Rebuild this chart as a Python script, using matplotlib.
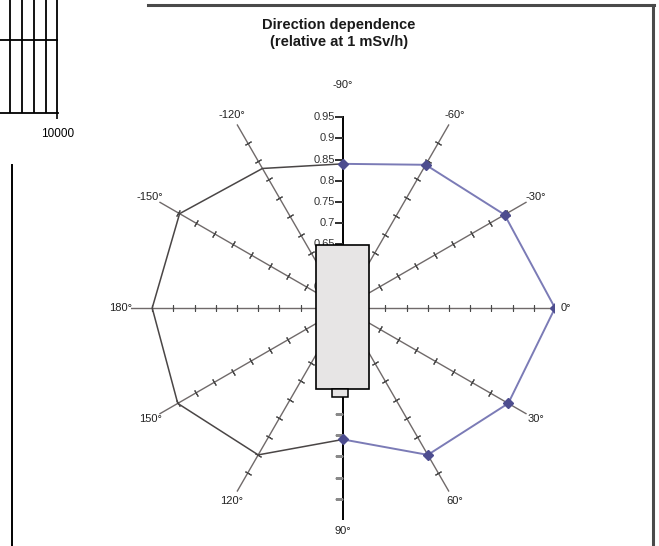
import numpy as np
import matplotlib
matplotlib.use("Agg")
import matplotlib.pyplot as plt
from matplotlib.patches import Rectangle
from matplotlib.lines import Line2D

plt.rcParams["font.family"] = ["Liberation Sans", "DejaVu Sans"]

# Spoke directions (degrees, clockwise from the right) and their labels
spoke_angles = [-90, -60, -30, 0, 30, 60, 90, 120, 150, 180, -150, -120]
spoke_labels = ["-90°", "-60°", "-30°", "0°", "30°", "60°", "90°",
                "120°", "150°", "180°", "-150°", "-120°"]

# Front half (-90° .. 90°), drawn with markers
front_angles = [-90, -60, -30, 0, 30, 60, 90]
front_values = [0.84, 0.89, 0.94, 1.00, 0.95, 0.90, 0.81]

# Rear half (-90° .. 180° .. 90°)
rear_angles = [-90, -120, -150, 180, 150, 120, 90]
rear_values = [0.84, 0.88, 0.945, 0.95, 0.95, 0.90, 0.81]

# Radial scale
r_ticks = [0.5, 0.55, 0.6, 0.65, 0.7, 0.75, 0.8, 0.85, 0.9, 0.95]
r_tick_labels = ["0.5", "0.55", "0.6", "0.65", "0.7", "0.75", "0.8",
                 "0.85", "0.9", "0.95"]
r_min, r_max = 0.5, 1.0

# Neighbouring log-response panel (x axis fragment)
side_grid = [6000, 7000, 8000, 9000]
side_ticks = [10000]
side_tick_labels = ["10000"]

W, H = 659, 546
fig = plt.figure(figsize=(W / 100, H / 100), dpi=100)
fig.patch.set_facecolor("white")

# ---- radar chart -------------------------------------------------------
cx, cy, R = 343, 308, 212
ax = fig.add_axes([(cx - R) / W, (H - cy - R) / H, 2 * R / W, 2 * R / H],
                  projection="polar")
ax.set_theta_zero_location("E")
ax.set_theta_direction(-1)
ax.set_ylim(r_min, r_max)
ax.grid(False)
ax.spines["polar"].set_visible(False)
ax.set_xticks([])
ax.set_yticks([])
ax.patch.set_alpha(0)

tick_r = [r for r in r_ticks if r > r_min]
for ang in spoke_angles:
    th = np.deg2rad(ang)
    if ang == -90:
        ax.plot([th, th], [r_min, 0.95], color="black", lw=1.4, zorder=2)
        ax.plot([th] * len(r_ticks), r_ticks, ls="none", marker=0, ms=6,
                mec="#333333", mew=1.1, zorder=2)
    elif ang == 90:
        ax.plot([th, th], [r_min, r_max], color="black", lw=1.4, zorder=2)
        ax.plot([th] * len(tick_r), tick_r, ls="none", marker=0, ms=6,
                mec="#8a8a8a", mew=1.0, zorder=2)
    else:
        ax.plot([th, th], [r_min, r_max], color="#706a6a", lw=1.0, zorder=2)
        ax.plot([th] * len(tick_r), tick_r, ls="none",
                marker=(2, 2, -ang), ms=5, mec="#4a4a4a", mew=0.8, zorder=2)

for ang, lbl in zip(spoke_angles, spoke_labels):
    ax.text(np.deg2rad(ang), 1.025, lbl, ha="center", va="center",
            fontsize=8, color="#222222")

for r, lbl in zip(r_ticks, r_tick_labels):
    ax.annotate(lbl, xy=(np.deg2rad(-90), r), xytext=(-8, 0),
                textcoords="offset pixels", ha="right", va="center",
                fontsize=8, color="#333333")

ax.plot(np.deg2rad(rear_angles), rear_values, color="#4a4646", lw=1.1,
        zorder=3)
ax.plot(np.deg2rad(front_angles), front_values, color="#7b7bb6", lw=1.4,
        marker="D", ms=5, mfc="#4d4d8f", mec="#4d4d8f", zorder=4)

# detector body drawn over the centre
fig.add_artist(Rectangle((316 / W, 1 - 389 / H), 53 / W, 144 / H,
                         transform=fig.transFigure, facecolor="#e7e5e5",
                         edgecolor="black", lw=1.2, zorder=10))
fig.add_artist(Rectangle((332 / W, 1 - 397 / H), 16 / W, 8 / H,
                         transform=fig.transFigure, facecolor="#e7e5e5",
                         edgecolor="black", lw=1.1, zorder=11))

fig.text(339 / W, 1 - 25 / H, "Direction dependence", ha="center",
         va="center", fontsize=10.5, fontweight="bold", color="#1a1a1a")
fig.text(339 / W, 1 - 42 / H, "(relative at 1 mSv/h)", ha="center",
         va="center", fontsize=10.5, fontweight="bold", color="#1a1a1a")

# chart frame
fig.add_artist(Line2D([148 / W, 654 / W], [1 - 5 / H, 1 - 5 / H],
                      transform=fig.transFigure, color="#4a4a4a", lw=2.2))
fig.add_artist(Line2D([653 / W, 653 / W], [1 - 5 / H, 0],
                      transform=fig.transFigure, color="#4a4a4a", lw=2.2))

# ---- neighbouring panel fragment ------------------------------------------
ax2 = fig.add_axes([0, (H - 113) / H, 58 / W, 143 / H])
ax2.set_xlim(5150, 10050)
ax2.set_ylim(0, 143)
ax2.set_xticks(side_ticks)
ax2.set_xticklabels(side_tick_labels, fontsize=8.5)
ax2.set_xticks(side_grid, minor=True)
ax2.tick_params(axis="x", which="major", length=4, width=1.2, pad=7)
ax2.tick_params(axis="x", which="minor", length=0)
ax2.set_yticks([])
ax2.grid(axis="x", which="both", color="black", lw=1.3)
ax2.axhline(73, color="black", lw=1.3)
for s in ("left", "top", "right"):
    ax2.spines[s].set_visible(False)
ax2.spines["bottom"].set_linewidth(1.3)
ax2.patch.set_alpha(0)

fig.add_artist(Line2D([12 / W, 12 / W], [1 - 165 / H, 0],
                      transform=fig.transFigure, color="black", lw=1.4))

fig.savefig("out.png", dpi=100, facecolor="white")
